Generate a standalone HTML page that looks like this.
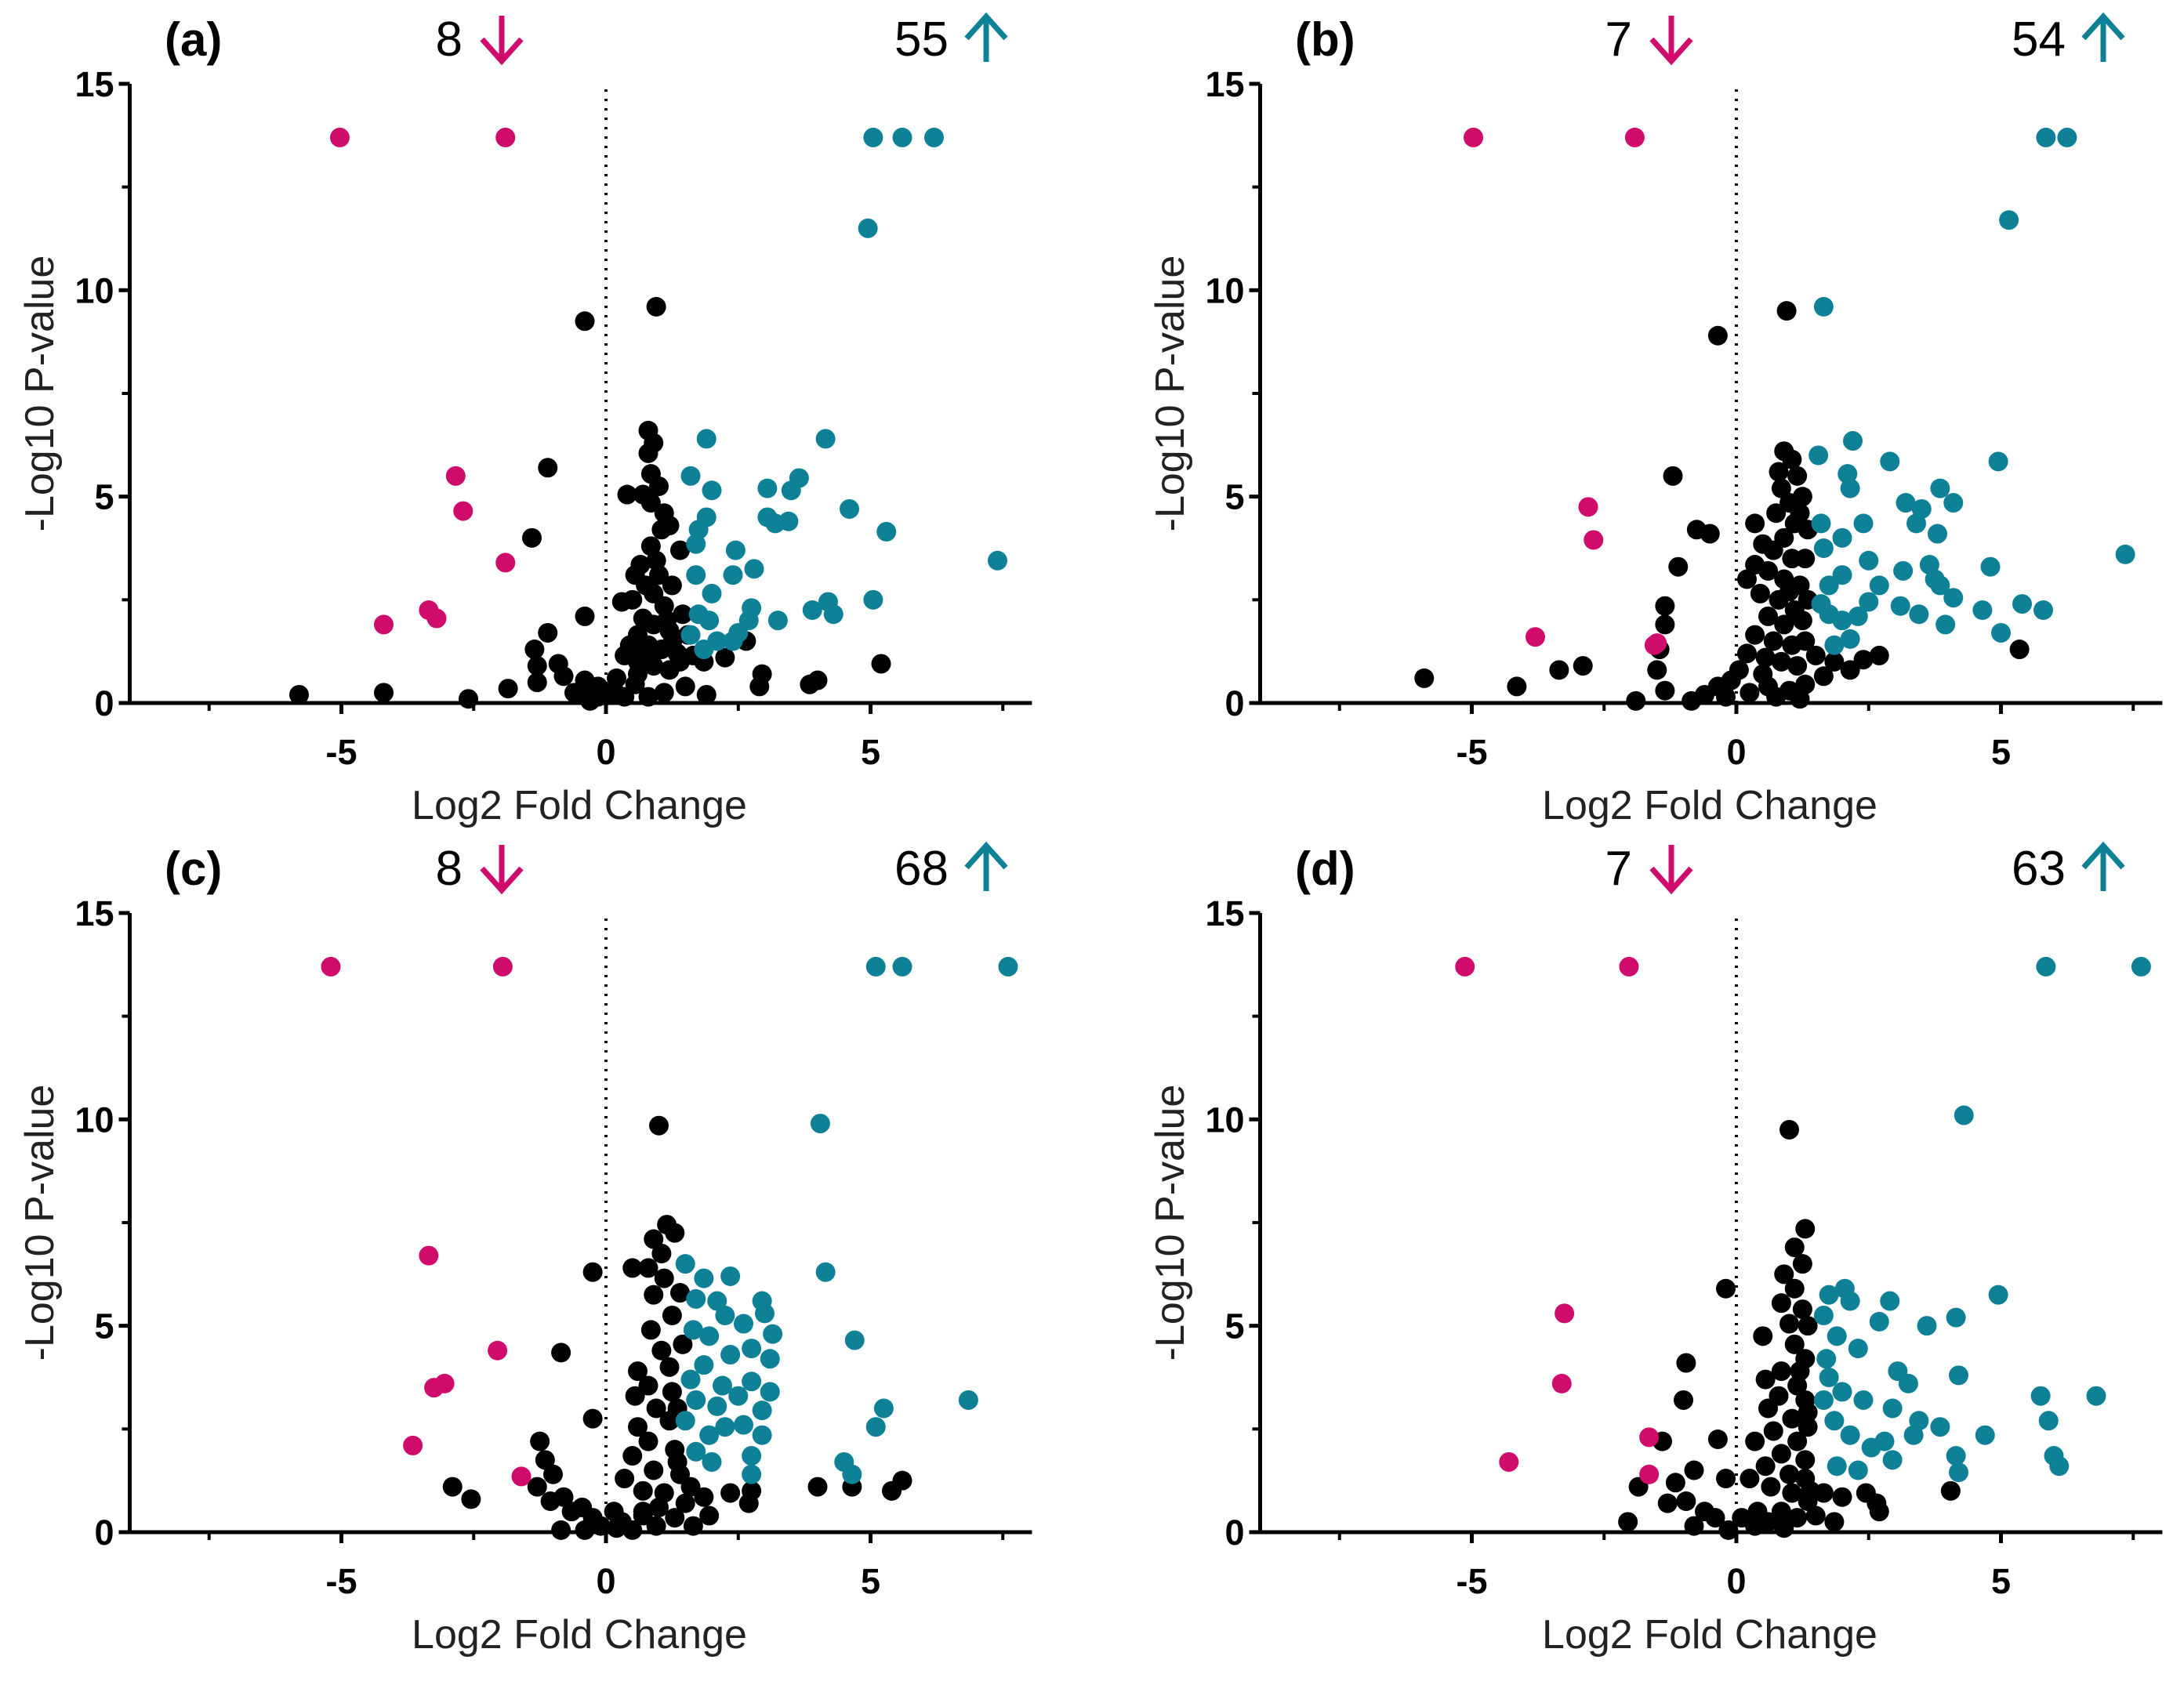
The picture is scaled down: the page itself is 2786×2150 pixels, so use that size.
<!DOCTYPE html>
<html><head><meta charset="utf-8"><style>
html,body{margin:0;padding:0;background:#fff;}
svg{display:block;font-family:"Liberation Sans",Arial,sans-serif;}
</style></head><body>
<svg id="fig" width="2786" height="2150" viewBox="0 0 2786 2150" xmlns="http://www.w3.org/2000/svg"></svg>
<script>
// Panel labels and counts
const panelLabels = ["(a)","(b)","(c)","(d)"];
const downCounts = ["8","7","8","7"];
const upCounts = ["55","54","68","63"];
const xTicks = [-5,0,5];
const xMinor = [-7.5,-2.5,2.5,7.5];
const yTicks = [0,5,10,15];
const yMinor = [2.5,7.5,12.5];

// Panel (a)
const aDown = [[-5.03,13.7],[-1.9,13.7],[-2.84,5.5],[-2.7,4.65],[-1.9,3.4],[-4.2,1.9],[-3.35,2.25],[-3.2,2.05]];
const aUp = [[5.05,13.7],[5.6,13.7],[6.2,13.7],[4.95,11.5],[1.9,6.4],[4.15,6.4],[1.6,5.5],[2.0,5.15],[3.05,5.2],[3.65,5.45],[3.5,5.15],[4.6,4.7],[5.3,4.15],[7.4,3.45],[3.05,4.5],[3.2,4.35],[3.45,4.4],[1.75,4.2],[1.9,4.5],[1.7,3.85],[2.45,3.7],[1.7,3.1],[2.4,3.1],[2.8,3.25],[5.05,2.5],[4.2,2.45],[4.3,2.15],[3.9,2.25],[3.25,2.0],[2.75,2.3],[2.7,2.0],[2.4,1.5],[1.75,2.15],[1.95,2.0],[1.6,1.65],[2.1,1.5],[1.85,1.3],[2.5,1.7],[2.0,2.65]];
const aNs = [[-5.8,0.2],[-4.2,0.25],[-2.6,0.1],[-1.85,0.35],[-0.4,9.25],[0.95,9.6],[-1.1,5.7],[-1.4,4.0],[-0.4,2.1],[-1.1,1.7],[-1.35,1.3],[-1.3,0.9],[-1.3,0.5],[-0.9,0.95],[-0.8,0.65],[-0.6,0.25],[-0.4,0.55],[-0.15,0.4],[0.15,0.3],[0.35,0.15],[0.55,0.45],[0.8,6.6],[0.9,6.3],[0.8,6.05],[0.85,5.55],[1.0,5.25],[0.4,5.05],[0.7,5.05],[0.85,4.85],[1.1,4.6],[1.05,4.2],[0.85,3.8],[0.95,3.45],[0.65,3.35],[0.55,3.1],[0.75,2.85],[0.9,2.65],[0.5,2.5],[0.3,2.45],[1.1,2.35],[0.7,2.05],[0.9,1.9],[1.2,1.75],[0.6,1.65],[0.45,1.4],[0.8,1.4],[1.05,1.3],[1.35,1.2],[0.35,1.15],[0.6,1.0],[0.9,0.9],[1.2,0.8],[1.4,1.0],[1.65,1.15],[1.85,1.0],[2.25,1.1],[2.65,1.5],[2.95,0.7],[2.9,0.4],[3.85,0.45],[4.0,0.55],[5.2,0.95],[1.9,0.2],[1.5,0.4],[1.1,0.25],[0.8,0.15],[-0.15,0.15],[-0.4,0.2],[1.2,4.3],[1.4,3.7],[1.25,2.85],[1.45,2.15],[1.55,1.65],[1.0,3.1],[1.15,2.0],[0.75,1.15],[1.25,1.45],[0.2,0.6],[0.05,0.2],[-0.3,0.05],[0.6,0.7]];

// Panel (b)
const bDown = [[-4.97,13.7],[-1.92,13.7],[-2.8,4.75],[-2.7,3.95],[-3.8,1.6],[-1.5,1.45],[-1.55,1.4]];
const bUp = [[5.85,13.7],[6.25,13.7],[5.15,11.7],[1.65,9.6],[2.2,6.35],[1.55,6.0],[2.9,5.85],[4.95,5.85],[2.1,5.55],[3.85,5.2],[2.15,5.2],[3.2,4.85],[4.1,4.85],[3.5,4.7],[3.4,4.35],[1.6,4.35],[2.0,4.0],[2.4,4.35],[3.8,4.1],[1.65,3.75],[2.5,3.45],[3.15,3.2],[3.65,3.35],[4.8,3.3],[7.35,3.6],[2.0,3.1],[2.7,2.85],[1.75,2.85],[4.1,2.55],[3.75,3.0],[4.65,2.25],[5.4,2.4],[5.8,2.25],[5.0,1.7],[3.95,1.9],[3.1,2.35],[3.45,2.15],[2.3,2.1],[1.75,2.15],[1.6,2.4],[2.0,2.0],[2.15,1.55],[1.85,1.4],[2.5,2.45],[3.85,2.85]];
const bNs = [[-5.9,0.6],[-4.15,0.4],[-3.35,0.8],[-2.9,0.9],[-1.9,0.05],[-0.35,8.9],[0.95,9.5],[-1.2,5.5],[-1.1,3.3],[-1.35,2.35],[-1.35,1.9],[-1.45,1.3],[-1.5,0.8],[-1.35,0.3],[-0.75,4.2],[-0.5,4.1],[0.35,4.35],[0.5,3.85],[0.35,3.35],[0.2,3.0],[0.9,6.1],[1.05,5.9],[0.8,5.6],[1.15,5.5],[0.85,5.2],[1.0,4.85],[1.25,5.0],[0.75,4.6],[1.1,4.35],[0.9,4.0],[0.7,3.7],[1.05,3.5],[0.6,3.2],[0.9,3.0],[1.2,2.85],[0.45,2.65],[0.8,2.5],[1.1,2.25],[0.6,2.1],[0.9,1.9],[1.25,2.0],[0.35,1.65],[0.7,1.5],[1.05,1.4],[1.3,1.5],[0.2,1.2],[0.55,1.1],[0.85,1.0],[1.15,0.9],[1.5,1.15],[1.85,1.0],[2.4,1.05],[2.7,1.15],[5.35,1.3],[2.15,0.8],[1.65,0.65],[0.05,0.8],[-0.1,0.55],[-0.35,0.4],[-0.6,0.2],[-0.2,0.15],[0.25,0.25],[0.6,0.4],[1.0,0.3],[1.3,0.45],[-0.85,0.05],[1.35,4.2],[1.3,3.5],[1.35,2.5],[1.2,4.6],[1.0,2.7],[0.5,0.7],[0.75,0.15],[1.2,0.1]];

// Panel (c)
const cDown = [[-5.2,13.7],[-1.95,13.7],[-3.35,6.7],[-2.05,4.4],[-3.25,3.5],[-3.05,3.6],[-3.65,2.1],[-1.6,1.35]];
const cUp = [[5.1,13.7],[5.6,13.7],[7.6,13.7],[4.05,9.9],[4.15,6.3],[4.7,4.65],[5.25,3.0],[5.1,2.55],[6.85,3.2],[4.5,1.7],[4.65,1.4],[1.5,6.5],[1.85,6.15],[2.35,6.2],[2.95,5.6],[3.0,5.3],[2.1,5.6],[1.7,5.65],[2.25,5.25],[2.6,5.05],[3.15,4.8],[1.65,4.9],[1.95,4.75],[2.75,4.45],[2.35,4.3],[3.1,4.2],[1.85,4.05],[1.6,3.7],[2.2,3.55],[2.75,3.65],[3.1,3.4],[1.7,3.2],[2.5,3.3],[2.1,3.05],[2.95,2.95],[1.5,2.7],[2.6,2.6],[1.95,2.35],[2.95,2.35],[1.7,1.95],[2.75,1.85],[2.0,1.7],[2.75,1.4],[2.25,2.55]];
const cNs = [[-2.9,1.1],[-2.55,0.8],[-0.25,6.3],[-0.85,4.35],[-0.25,2.75],[1.0,9.85],[1.15,7.45],[1.3,7.25],[0.9,7.1],[1.05,6.75],[0.8,6.4],[1.1,6.15],[0.5,6.4],[0.9,5.75],[1.25,5.25],[0.85,4.9],[1.45,4.55],[1.05,4.4],[0.6,3.9],[0.8,3.55],[1.25,3.4],[0.95,3.0],[0.6,2.55],[1.2,2.7],[0.8,2.2],[1.3,2.0],[0.5,1.85],[0.9,1.5],[1.4,1.4],[0.35,1.3],[0.7,1.0],[1.1,0.95],[1.6,1.1],[1.85,0.85],[2.35,0.95],[2.75,1.0],[2.7,0.7],[4.0,1.1],[4.65,1.1],[5.4,1.0],[5.6,1.25],[-1.25,2.2],[-1.15,1.75],[-1.0,1.4],[-1.3,1.1],[-1.05,0.75],[-0.8,0.85],[-0.65,0.5],[-0.85,0.05],[-0.45,0.6],[-0.25,0.35],[-0.1,0.15],[0.15,0.5],[0.3,0.25],[0.5,0.05],[0.7,0.4],[0.95,0.15],[1.3,0.35],[1.65,0.15],[1.95,0.4],[-0.4,0.05],[0.7,0.5],[1.5,0.7],[1.35,3.0],[1.2,4.0],[1.4,5.8],[0.55,3.3],[1.35,1.7],[1.0,0.6],[0.2,0.1]];

// Panel (d)
const dDown = [[-5.13,13.7],[-2.03,13.7],[-3.25,5.3],[-3.3,3.6],[-1.65,2.3],[-1.65,1.4],[-4.3,1.7]];
const dUp = [[5.85,13.7],[7.65,13.7],[4.3,10.1],[4.95,5.75],[2.9,5.6],[4.15,5.2],[3.6,5.0],[2.05,5.9],[1.75,5.75],[2.15,5.6],[2.7,5.1],[1.65,5.25],[1.9,4.75],[2.3,4.45],[3.05,3.9],[4.2,3.8],[3.25,3.6],[5.75,3.3],[6.8,3.3],[5.9,2.7],[1.75,3.75],[2.0,3.4],[2.4,3.2],[2.95,3.0],[3.45,2.7],[3.85,2.55],[3.35,2.35],[4.7,2.35],[2.8,2.2],[1.85,2.7],[2.15,2.35],[2.55,2.05],[4.15,1.85],[4.2,1.45],[6.0,1.85],[6.1,1.6],[2.95,1.75],[1.9,1.6],[2.3,1.5],[1.65,3.2],[1.7,4.2]];
const dNs = [[-2.05,0.25],[-1.85,1.1],[-1.4,2.2],[-1.0,3.2],[-0.95,4.1],[-0.2,5.9],[-0.35,2.25],[-0.8,1.5],[-1.15,1.2],[-1.3,0.7],[-0.95,0.75],[-0.6,0.5],[-0.8,0.15],[-0.4,0.35],[-0.15,0.05],[-0.2,1.3],[0.1,0.35],[0.35,0.15],[1.0,9.75],[1.3,7.35],[1.1,6.9],[1.25,6.5],[0.9,6.25],[1.1,5.9],[0.85,5.55],[1.25,5.4],[1.0,5.05],[0.5,4.75],[1.1,4.55],[1.3,4.2],[0.85,3.9],[0.55,3.7],[1.15,3.55],[0.8,3.3],[1.3,3.2],[0.6,3.0],[1.05,2.75],[1.35,2.55],[0.7,2.45],[0.35,2.2],[1.15,2.2],[0.85,1.9],[1.3,1.75],[0.55,1.6],[1.0,1.4],[1.3,1.3],[0.25,1.3],[0.65,1.1],[1.05,0.95],[1.35,0.75],[1.65,0.95],[2.0,0.85],[2.45,0.95],[2.65,0.7],[2.7,0.5],[4.05,1.0],[0.85,0.5],[1.15,0.35],[1.5,0.4],[1.85,0.25],[0.6,0.25],[1.35,5.0],[1.2,3.9],[1.35,2.9],[1.4,1.0],[0.9,0.1],[0.4,0.5]];

const NS = "http://www.w3.org/2000/svg";
const svg = document.getElementById('fig');
const PINK = "#cf0c6c", TEAL = "#0e8196";
function mk(tag, attrs, parent){
  const e = document.createElementNS(NS, tag);
  for (const k in attrs) e.setAttribute(k, attrs[k]);
  (parent||svg).appendChild(e);
  return e;
}
const panels = [
  {ox:0, oy:0, dx:0, ux:0, down:aDown, up:aUp, ns:aNs},
  {ox:1442, oy:0, dx:1492, ux:1425, down:bDown, up:bUp, ns:bNs},
  {ox:0, oy:1058, dx:0, ux:0, down:cDown, up:cUp, ns:cNs},
  {ox:1442, oy:1058, dx:1492, ux:1425, down:dDown, up:dUp, ns:dNs}
];
panels.forEach((p, i) => {
  const g = mk('g', {});
  
  
  const X = v => p.ox + 773 + v * 67.5;
  const Y = v => p.oy + 897 - v * 52.67;
  const xa = mk('line', {x1:X(-9.07), x2:X(8.05), y1:Y(0), y2:Y(0), stroke:'#000', 'stroke-width':5}, g);
  
  
  const ya = mk('line', {x1:X(-9), x2:X(-9), y1:Y(0)+2.5, y2:Y(15), stroke:'#000', 'stroke-width':5}, g);
  
  
  xTicks.forEach(t => {
    mk('line', {x1:X(t), x2:X(t), y1:Y(0), y2:Y(0)+14, stroke:'#000', 'stroke-width':5}, g);
    const tl = mk('text', {x:X(t), y:Y(0)+78, 'font-size':45, 'font-weight':'bold', 'text-anchor':'middle'}, g);
    
    
    tl.textContent = String(t);
  });
  xMinor.forEach(t => mk('line', {x1:X(t), x2:X(t), y1:Y(0), y2:Y(0)+10, stroke:'#000', 'stroke-width':4}, g));
  yTicks.forEach(t => {
    mk('line', {x1:X(-9)-14, x2:X(-9), y1:Y(t), y2:Y(t), stroke:'#000', 'stroke-width':5}, g);
    const tl = mk('text', {x:X(-9)-20, y:Y(t)+16, 'font-size':45, 'font-weight':'bold', 'text-anchor':'end'}, g);
    
    
    tl.textContent = String(t);
  });
  yMinor.forEach(t => mk('line', {x1:X(-9)-10, x2:X(-9), y1:Y(t), y2:Y(t), stroke:'#000', 'stroke-width':4}, g));
  const zl = mk('line', {x1:X(0), x2:X(0), y1:Y(0), y2:Y(15), stroke:'#000', 'stroke-width':4, 'stroke-dasharray':'3 9'}, g);
  
  
  const xt = mk('text', {x:p.ox + 739, y:p.oy + 1045, 'font-size':52, 'text-anchor':'middle', fill:'#222'}, g);
  
  
  xt.textContent = 'Log2 Fold Change';
  const yt = mk('text', {x:0, y:0, 'font-size':52, 'text-anchor':'middle', fill:'#222', transform:`translate(${p.ox+68},${p.oy+502}) rotate(-90)`}, g);
  
  
  yt.textContent = '-Log10 P-value';
  const pl = mk('text', {x:p.ox + 210, y:p.oy + 71, 'font-size':60, 'font-weight':'bold'}, g);
  
  
  pl.textContent = panelLabels[i];
  const dxh = p.dx;
  const dc = mk('text', {x:dxh + 590, y:p.oy + 71, 'font-size':62, 'text-anchor':'end'}, g);
  
  
  dc.textContent = downCounts[i];
  const da = mk('path', {d:`M${dxh+640},${p.oy+20} V${p.oy+78} M${dxh+615},${p.oy+50} L${dxh+640},${p.oy+78} L${dxh+665},${p.oy+50}`, stroke:PINK, 'stroke-width':7, fill:'none'}, g);
  
  
  const uxh = p.ux;
  const uc = mk('text', {x:uxh + 1210, y:p.oy + 71, 'font-size':62, 'text-anchor':'end'}, g);
  
  
  uc.textContent = upCounts[i];
  const ua = mk('path', {d:`M${uxh+1258},${p.oy+79} V${p.oy+21} M${uxh+1233},${p.oy+49} L${uxh+1258},${p.oy+21} L${uxh+1283},${p.oy+49}`, stroke:TEAL, 'stroke-width':7, fill:'none'}, g);
  
  
  const draw = (arr, color, name) => arr.forEach(d => {
    const c = mk('circle', {cx:X(d[0]), cy:Y(d[1]), r:12.5, fill:color}, g);
    
    
  });
  draw(p.ns, '#000', 'point-not-significant');
  draw(p.down, PINK, 'point-downregulated');
  draw(p.up, TEAL, 'point-upregulated');
});
</script>
</body></html>
